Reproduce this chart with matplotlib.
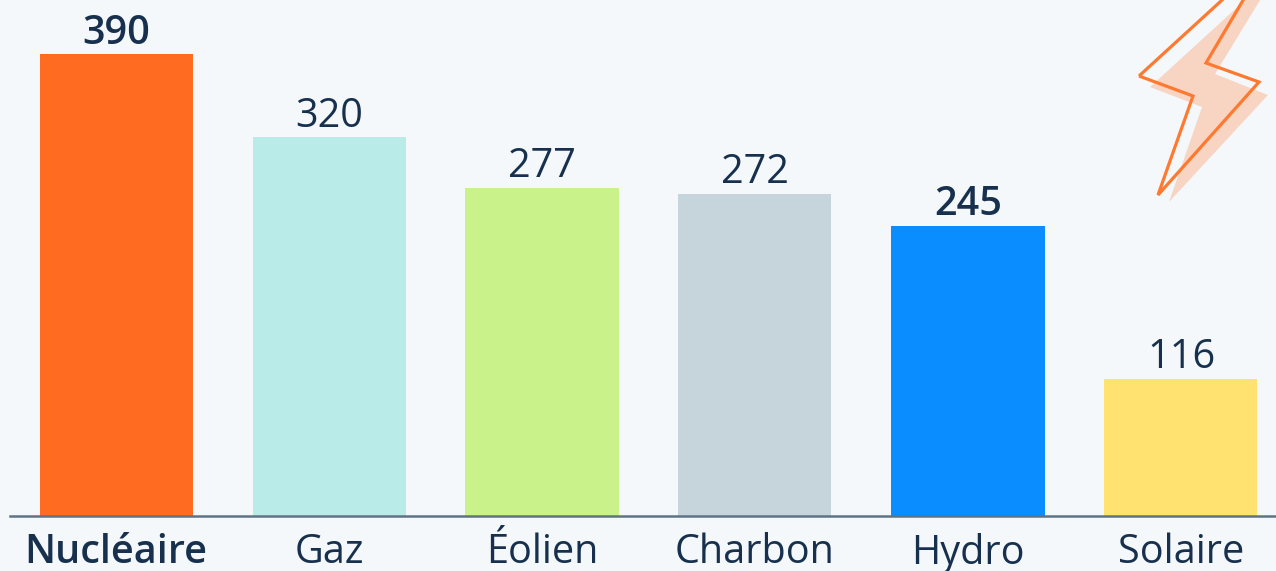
import matplotlib
matplotlib.use('Agg')
import matplotlib.pyplot as plt
from matplotlib.patches import Polygon

W, H = 1276, 571

categories = ['Nucléaire', 'Gaz', 'Éolien', 'Charbon', 'Hydro', 'Solaire']
values = [390, 320, 277, 272, 245, 116]
colors = ['#ff6b21', '#b9ece8', '#caf28a', '#c6d5dc', '#0a8dff', '#ffe26f']
value_weight = ['semibold', 'normal', 'normal', 'normal', 'semibold', 'normal']
cat_weight = ['semibold', 'normal', 'normal', 'normal', 'normal', 'normal']

# lightning bolt decoration, in pixels of the picture
bolt = [(1139, 76), (1193, 96), (1158, 195), (1259, 82), (1206, 63), (1268, -42)]
bolt_shadow = [(1150, 87), (1202, 107), (1169, 202), (1268, 95), (1215, 74), (1279, -31)]

TEXT = '#17304d'
BG = '#f4f8fb'


def px(points):
    return [(x / W, 1 - y / H) for x, y in points]


plt.rcParams['font.family'] = ['Open Sans', 'DejaVu Sans']

fig = plt.figure(figsize=(W / 100, H / 100), dpi=100, facecolor=BG)
ax = fig.add_axes([10 / W, 1 - 516 / H, 1 - 10 / W, 516 / H], facecolor=BG)

ax.bar(range(len(values)), values, width=153 / 213, color=colors, zorder=2)
ax.set_xlim(-106 / 213, 1160 / 213)
ax.set_ylim(0, 516 / 1.1846)

for i, v in enumerate(values):
    ax.annotate(str(v), (i, v), xytext=(0.3, 0.3), textcoords='offset points',
                ha='center', va='bottom', fontsize=28.5, color=TEXT,
                fontweight=value_weight[i])

ax.set_xticks(range(len(categories)))
ax.set_xticklabels(categories, fontsize=28.5, color=TEXT)
for lab, w in zip(ax.get_xticklabels(), cat_weight):
    lab.set_fontweight(w)
ax.tick_params(axis='x', length=0, pad=12)
ax.set_yticks([])
for s in ['top', 'left', 'right']:
    ax.spines[s].set_visible(False)
ax.spines['bottom'].set_color('#5f7384')
ax.spines['bottom'].set_linewidth(1.8)
ax.spines['bottom'].set_zorder(3)

fig.add_artist(Polygon(px(bolt_shadow), closed=True, transform=fig.transFigure,
                       facecolor='#f8d5c3', edgecolor='none'))
fig.add_artist(Polygon(px(bolt), closed=True, transform=fig.transFigure,
                       facecolor='none', edgecolor='#ff7a30', linewidth=2.3))

fig.savefig('out.png', dpi=100, facecolor=BG)
